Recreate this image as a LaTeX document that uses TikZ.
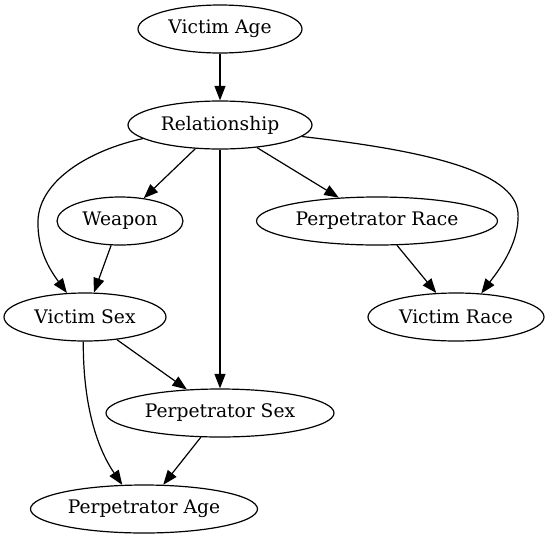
\documentclass[tikz,border=0pt]{standalone}
\usepackage{fontspec}
\setmainfont{DejaVu Serif}
\usetikzlibrary{shapes.geometric,arrows.meta}

\begin{document}
\begin{tikzpicture}[x=1pt,y=-1pt,
  var/.style={draw,ellipse,line width=1.2pt,inner sep=0pt,minimum height=48pt,font=\fontsize{18.67}{22}\selectfont},
  arr/.style={-{Triangle[length=14.5pt,width=11pt]},line width=1.2pt}]
\useasboundingbox (0,0) rectangle (549,539);

\node[var,minimum width=164pt] (vage) at (220,29) {Victim Age};
\node[var,minimum width=184pt] (rel) at (220,125) {Relationship};
\node[var,minimum width=126pt] (weapon) at (120,221) {Weapon};
\node[var,minimum width=241pt] (prace) at (377,221) {Perpetrator Race};
\node[var,minimum width=162pt] (vsex) at (85,317) {Victim Sex};
\node[var,minimum width=176pt] (vrace) at (456,317) {Victim Race};
\node[var,minimum width=228pt] (psex) at (220,413) {Perpetrator Sex};
\node[var,minimum width=227pt] (page) at (144,509) {Perpetrator Age};

\draw[arr] (vage) -- (rel);
\draw[arr] (rel) -- (weapon);
\draw[arr] (rel) -- (prace);
\draw[arr] (rel) -- (psex);
\draw[arr] (rel.190) .. controls (90,150) and (40,180) .. (38,220) .. controls (37,250) and (50,270) .. (vsex.127);
\draw[arr] (rel.-8) .. controls (420,150) and (515,170) .. (518,213) .. controls (520,245) and (495,275) .. (vrace.43);
\draw[arr] (weapon) -- (vsex);
\draw[arr] (prace) -- (vrace);
\draw[arr] (vsex) -- (psex);
\draw[arr] (vsex.266) .. controls (83,400) and (95,445) .. (page.132);
\draw[arr] (psex) -- (page);
\end{tikzpicture}
\end{document}
